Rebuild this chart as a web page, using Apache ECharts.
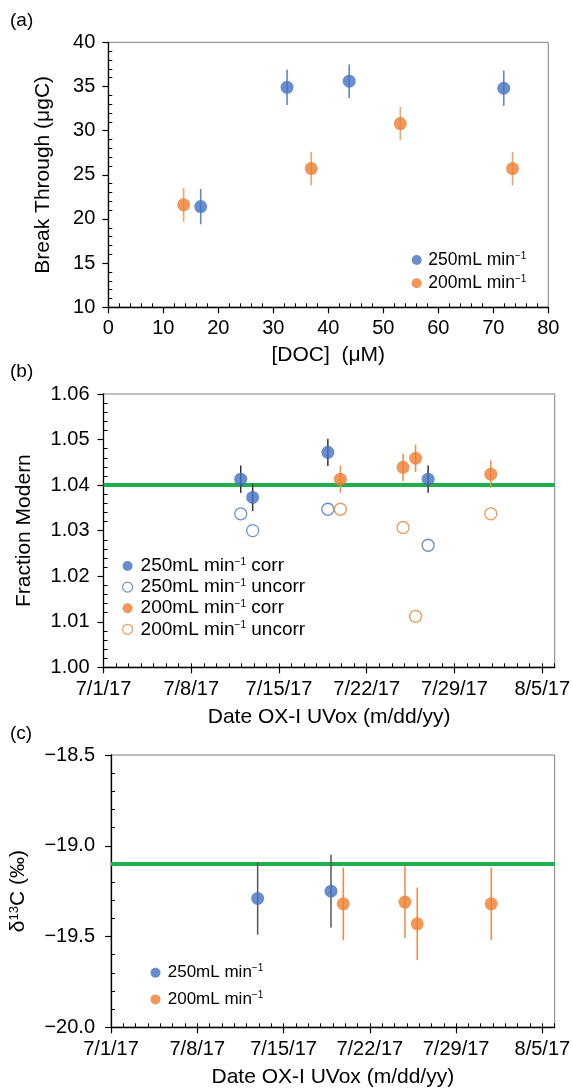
<!DOCTYPE html>
<html>
<head>
<meta charset="utf-8">
<script src="https://cdn.jsdelivr.net/npm/echarts@6.0.0/dist/echarts.min.js"></script>
<style>
  html, body { margin: 0; padding: 0; background: #fff; }
  #chart { width: 573px; height: 1089px; }
</style>
</head>
<body>
<div id="chart"></div>
<script>
// (a) break through vs DOC
const doc250 = [16.8, 32.5, 43.8, 71.9];
const bt250 = [21.4, 34.9, 35.6, 34.8];
const btErr250 = [2.0, 2.0, 1.9, 2.0];
const doc200 = [13.7, 36.9, 53.1, 73.5];
const bt200 = [21.6, 25.7, 30.8, 25.7];
const btErr200 = [1.9, 1.9, 1.9, 1.9];

// (b) fraction modern, x = days after 7/1/17
const day250 = [10.95, 11.9, 17.9, 25.9];
const fmCorr250 = [1.0413, 1.0373, 1.0472, 1.0413];
const fmUncorr250 = [1.0337, 1.0300, 1.0347, 1.0268];
const day200 = [18.9, 23.9, 24.9, 30.9];
const fmCorr200 = [1.0413, 1.0439, 1.0459, 1.0424];
const fmUncorr200 = [1.0347, 1.0307, 1.0112, 1.0337];
const fmErr = 0.003;
const fmRef = 1.04;

// (c) d13C, x = days after 7/1/17
const d13Day250 = [11.9, 17.85];
const d13C250 = [-19.29, -19.25];
const d13Day200 = [18.85, 23.85, 24.85, 30.85];
const d13C200 = [-19.32, -19.31, -19.43, -19.32];
const d13Err = 0.2;
const d13Ref = -19.1;

const dateTicks = ['7/1/17', '7/8/17', '7/15/17', '7/22/17', '7/29/17', '8/5/17'];

const FONT = 'Liberation Sans';
const BLUE = '#4472C4';
const ORANGE = '#ED7D31';
const GREEN = '#1DB04C';

const pts = (xs, ys) => xs.map((x, i) => [x, ys[i]]);
const errPts = (xs, ys, e) => xs.map((x, i) => [x, ys[i], Array.isArray(e) ? e[i] : e]);

function errSeries(idx, data, color, width) {
  return {
    type: 'custom', xAxisIndex: idx, yAxisIndex: idx, data: data, silent: true, z: 2,
    encode: { x: 0, y: 1 },
    renderItem: function (params, api) {
      const x = api.value(0), y = api.value(1), e = api.value(2);
      const p1 = api.coord([x, y - e]);
      const p2 = api.coord([x, y + e]);
      return {
        type: 'line',
        shape: { x1: p1[0], y1: p1[1], x2: p2[0], y2: p2[1] },
        style: { stroke: color, lineWidth: width }
      };
    }
  };
}

function dot(name, idx, data, color, hollow) {
  return {
    type: 'scatter', name: name, xAxisIndex: idx, yAxisIndex: idx, data: data,
    symbol: 'circle', symbolSize: hollow ? 12 : 13, z: 3,
    itemStyle: hollow
      ? { color: '#fff', borderColor: color, borderWidth: 1.3 }
      : { color: color }
  };
}

const labelStyle = { fontFamily: FONT, fontSize: 20, color: '#000' };
const nameStyle = {
  fontFamily: FONT, fontSize: 21, color: '#000',
  rich: { s: { fontFamily: FONT, fontSize: 13, verticalAlign: 'top', lineHeight: 13, color: '#000' } }
};

function mainAxis(grid, pos, min, max, interval, o) {
  return Object.assign({
    type: 'value', gridIndex: grid, position: pos, min: min, max: max, interval: interval,
    axisLine: { show: true, onZero: false, lineStyle: { color: '#000', width: 1.3 } },
    axisTick: { show: true, inside: false, length: 6, lineStyle: { color: '#000', width: 1.2 } },
    splitLine: { show: false },
    nameLocation: 'middle', nameTextStyle: nameStyle
  }, o);
}

// same scale as the main axis, only used for the short inner ticks
function shadowAxis(grid, pos, min, max, interval, minorSplit) {
  const ax = {
    type: 'value', gridIndex: grid, position: pos, min: min, max: max, interval: interval,
    axisLine: { show: false },
    axisLabel: { show: false },
    splitLine: { show: false }
  };
  if (minorSplit) {
    ax.axisTick = { show: false, inside: true };
    ax.minorTick = { show: true, splitNumber: minorSplit, length: 4, lineStyle: { color: '#000', width: 1 } };
  } else {
    ax.axisTick = { show: true, inside: true, length: 4, lineStyle: { color: '#000', width: 1 } };
  }
  return ax;
}

const dateLabel = {
  ...labelStyle, margin: 12,
  customValues: [0, 7, 14, 21, 28, 35],
  formatter: v => (v % 7 === 0 && dateTicks[v / 7]) ? dateTicks[v / 7] : ''
};
const dateTick = { show: true, inside: false, length: 6, customValues: [0, 7, 14, 21, 28, 35], lineStyle: { color: '#000', width: 1.2 } };

const legendText = size => ({
  fontFamily: FONT, fontSize: size, color: '#000', lineHeight: 20,
  rich: { s: { fontFamily: FONT, fontSize: 10, lineHeight: 10, verticalAlign: 'top', padding: [1, 0, 0, 0], color: '#000' } }
});
const legendNames = {
  a250: '250mL min{s|−1}',
  a200: '200mL min{s|−1}',
  b250c: '250mL min{s|−1} corr',
  b250u: '250mL min{s|−1} uncorr',
  b200c: '200mL min{s|−1} corr',
  b200u: '200mL min{s|−1} uncorr',
  c250: '250mL min{s|−1}',
  c200: '200mL min{s|−1}'
};

const chart = echarts.init(document.getElementById('chart'));
chart.setOption({
  animation: false,
  backgroundColor: '#fff',
  title: [
    { text: '(a)', left: 10, top: 11, padding: 0, textStyle: { fontFamily: FONT, fontSize: 19, fontWeight: 'normal', color: '#000' } },
    { text: '(b)', left: 10, top: 362, padding: 0, textStyle: { fontFamily: FONT, fontSize: 19, fontWeight: 'normal', color: '#000' } },
    { text: '(c)', left: 10, top: 724, padding: 0, textStyle: { fontFamily: FONT, fontSize: 19, fontWeight: 'normal', color: '#000' } }
  ],
  grid: [
    { left: 108.3, top: 42.3, width: 440, height: 265, show: true, borderColor: '#808080', borderWidth: 1 },
    { left: 103.5, top: 394, width: 451.5, height: 273.3, show: true, borderColor: '#808080', borderWidth: 1 },
    { left: 105.7, top: 755, width: 449.3, height: 272.3, show: true, borderColor: '#808080', borderWidth: 1 }
  ],
  xAxis: [
    mainAxis(0, 'bottom', 0, 80, 10, { name: '[DOC]  (μM)', nameGap: 37, axisLabel: { ...labelStyle, margin: 11 } }),
    shadowAxis(0, 'bottom', 0, 80, 10, 5),
    mainAxis(1, 'bottom', 0, 36, 7, { name: 'Date OX-I UVox (m/dd/yy)', nameGap: 39, axisLabel: dateLabel, axisTick: dateTick }),
    shadowAxis(1, 'bottom', 0, 36, 1, 0),
    mainAxis(2, 'bottom', 0, 36, 7, { name: 'Date OX-I UVox (m/dd/yy)', nameGap: 39, axisLabel: dateLabel, axisTick: dateTick }),
    shadowAxis(2, 'bottom', 0, 36, 1, 0)
  ],
  yAxis: [
    mainAxis(0, 'left', 10, 40, 5, { name: 'Break Through (μgC)', nameGap: 55, axisLabel: { ...labelStyle, margin: 13 } }),
    shadowAxis(0, 'left', 10, 40, 5, 5),
    mainAxis(1, 'left', 1.00, 1.06, 0.01, { name: 'Fraction Modern', nameGap: 69, axisLabel: { ...labelStyle, margin: 14, formatter: v => v.toFixed(2) } }),
    shadowAxis(1, 'left', 1.00, 1.06, 0.01, 5),
    mainAxis(2, 'left', -20, -18.5, 0.5, { name: 'δ{s|13}C (‰)', nameGap: 82, axisLabel: { ...labelStyle, margin: 16, formatter: v => (v < 0 ? '−' : '') + Math.abs(v).toFixed(1) } }),
    shadowAxis(2, 'left', -20, -18.5, 0.5, 5)
  ],
  legend: [
    { data: ['a250', 'a200'], orient: 'vertical', left: 411.7, top: 250, itemWidth: 13.3, itemHeight: 10, itemGap: 3.3, padding: 0, selectedMode: false, formatter: n => legendNames[n], textStyle: legendText(17.5) },
    { data: ['b250c', { name: 'b250u', itemStyle: { borderWidth: 1.2 } }, 'b200c', { name: 'b200u', itemStyle: { borderWidth: 1.2 } }],
      orient: 'vertical', left: 122, top: 556, itemWidth: 16, itemHeight: 10, itemGap: 1.1, padding: 0, selectedMode: false, formatter: n => legendNames[n], textStyle: legendText(19) },
    { data: ['c250', 'c200'], orient: 'vertical', left: 150.5, top: 962.7, itemWidth: 14.5, itemHeight: 10, itemGap: 6.7, padding: 0, selectedMode: false, formatter: n => legendNames[n], textStyle: legendText(17) }
  ],
  series: [
    // (a)
    errSeries(0, errPts(doc250, bt250, btErr250), '#5f86cf', 1.6),
    errSeries(0, errPts(doc200, bt200, btErr200), '#f4a368', 1.6),
    dot('a250', 0, pts(doc250, bt250), BLUE),
    dot('a200', 0, pts(doc200, bt200), ORANGE),
    // (b)
    Object.assign(errSeries(2, errPts(day250, fmCorr250, fmErr), '#333333', 1.5), {
      markLine: { silent: true, z: 1, symbol: ['none', 'none'], label: { show: false },
        lineStyle: { color: GREEN, width: 4, type: 'solid' }, data: [{ yAxis: fmRef }] }
    }),
    errSeries(2, errPts(day200, fmCorr200, fmErr), '#F08A45', 1.5),
    dot('b250c', 2, pts(day250, fmCorr250), BLUE),
    dot('b250u', 2, pts(day250, fmUncorr250), BLUE, true),
    dot('b200c', 2, pts(day200, fmCorr200), ORANGE),
    dot('b200u', 2, pts(day200, fmUncorr200), ORANGE, true),
    // (c)
    Object.assign(errSeries(4, errPts(d13Day250, d13C250, d13Err), '#555555', 1.5), {
      markLine: { silent: true, z: 1, symbol: ['none', 'none'], label: { show: false },
        lineStyle: { color: GREEN, width: 4, type: 'solid' }, data: [{ yAxis: d13Ref }] }
    }),
    errSeries(4, errPts(d13Day200, d13C200, d13Err), '#F08A45', 1.5),
    dot('c250', 4, pts(d13Day250, d13C250), BLUE),
    dot('c200', 4, pts(d13Day200, d13C200), ORANGE)
  ]
});
</script>
</body>
</html>
